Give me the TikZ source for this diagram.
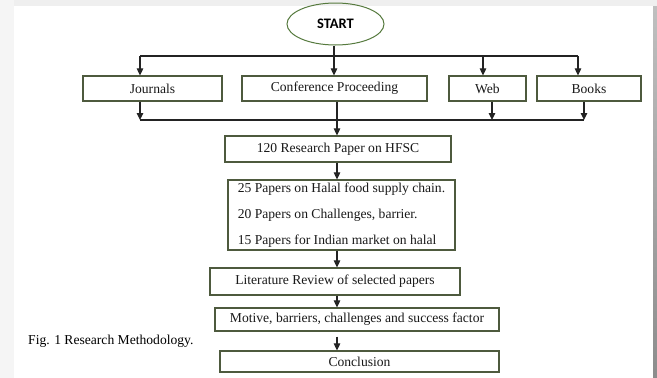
\documentclass[tikz,border=0pt]{standalone}
\usepackage{fontspec}
\setmainfont{Liberation Serif}
\newfontfamily\startfont{Carlito}
\usetikzlibrary{arrows.meta,shapes.geometric}
\definecolor{boxc}{RGB}{78,90,62}
\definecolor{ellc}{RGB}{86,122,62}
\definecolor{linec}{RGB}{35,35,35}
\definecolor{frame}{RGB}{239,239,239}
\begin{document}
\begin{tikzpicture}[x=1pt,y=-1pt,
  box/.style={draw=boxc, line width=1.2pt, inner sep=0pt, font=\fontsize{13.6}{16}\selectfont, text=black!90},
  conn/.style={draw=linec, line width=1.1pt},
  arr/.style={conn, -{Triangle[length=7pt,width=6.5pt]}},
  every node/.style={anchor=center}]
% background / frame
\useasboundingbox (0,0) rectangle (657,378);
\fill[frame] (0,0) rectangle (657,378);
\fill[white!96!black] (0,0) rectangle (14,378);
\fill[white] (14,6) rectangle (653,378);
\shade[top color=black!25, bottom color=black!45] (653,6) rectangle (657,378);

% nodes
\node[ellipse, draw=ellc, line width=1pt, minimum width=97pt, minimum height=42pt, inner sep=0pt,
      font=\startfont\bfseries\fontsize{14.5}{16}\selectfont] (start) at (335.5,24) {START};
\node[box, minimum width=139pt, minimum height=25pt] (jour) at (152.5,88.5) {Journals};
\node[box, minimum width=185pt, minimum height=25pt] (conf) at (334.5,88.5) {Conference Proceeding};
\node[box, minimum width=77pt, minimum height=25pt] (web) at (487.5,88.5) {Web};
\node[box, minimum width=104pt, minimum height=25pt] (books) at (589,88.5) {Books};
\node[box, minimum width=226pt, minimum height=26pt] (res) at (338,149) {120 Research Paper on HFSC};
\node[box, minimum width=227pt, minimum height=70pt, align=left,
      font=\fontsize{13.6}{26}\selectfont] (papers) at (341.5,215)
  {25 Papers on Halal food supply chain.\\20 Papers on Challenges, barrier.\\15 Papers for Indian market on halal};
\node[box, minimum width=250pt, minimum height=27pt] (lit) at (335,281.5) {Literature Review of selected papers};
\node[box, minimum width=284pt, minimum height=23pt] (mot) at (357,319.5) {Motive, barriers, challenges and success factor};
\node[box, minimum width=279pt, minimum height=21pt] (concl) at (359.5,361.5) {Conclusion};
\node[font=\fontsize{13.6}{16}\selectfont, anchor=west, inner sep=0pt] (cap) at (28,341) {Fig. 1 Research Methodology.};

% spine coordinates
\coordinate (sp) at (337,0);
\coordinate (tl) at (140,56);
\coordinate (tr) at (578,56);
\coordinate (ts) at (334,56);
\coordinate (tw) at (483,56);
\coordinate (bl) at (140,120);
\coordinate (br) at (584,120);
\coordinate (bw) at (492,120);

% top distribution
\draw[conn] (start.south -| ts) -- (ts);
\draw[conn] (tl) -- (tr);
\draw[arr] (tl) -- (tl |- jour.north);
\draw[arr] (ts) -- (ts |- conf.north);
\draw[arr] (tw) -- (tw |- web.north);
\draw[arr] (tr) -- (tr |- books.north);

% bottom collection
\draw[conn] (bl) -- (br);
\draw[arr] (bl |- jour.south) -- (bl);
\draw[arr] (bw |- web.south) -- (bw);
\draw[arr] (br |- books.south) -- (br);
\draw[arr] (conf.south -| sp) -- (res.north -| sp);

% main chain
\draw[arr] (res.south -| sp) -- (papers.north -| sp);
\draw[arr] (papers.south -| sp) -- (lit.north -| sp);
\draw[arr] (lit.south -| sp) -- (mot.north -| sp);
\draw[arr, shorten <=5pt] (mot.south -| sp) -- (concl.north -| sp);
\end{tikzpicture}
\end{document}
